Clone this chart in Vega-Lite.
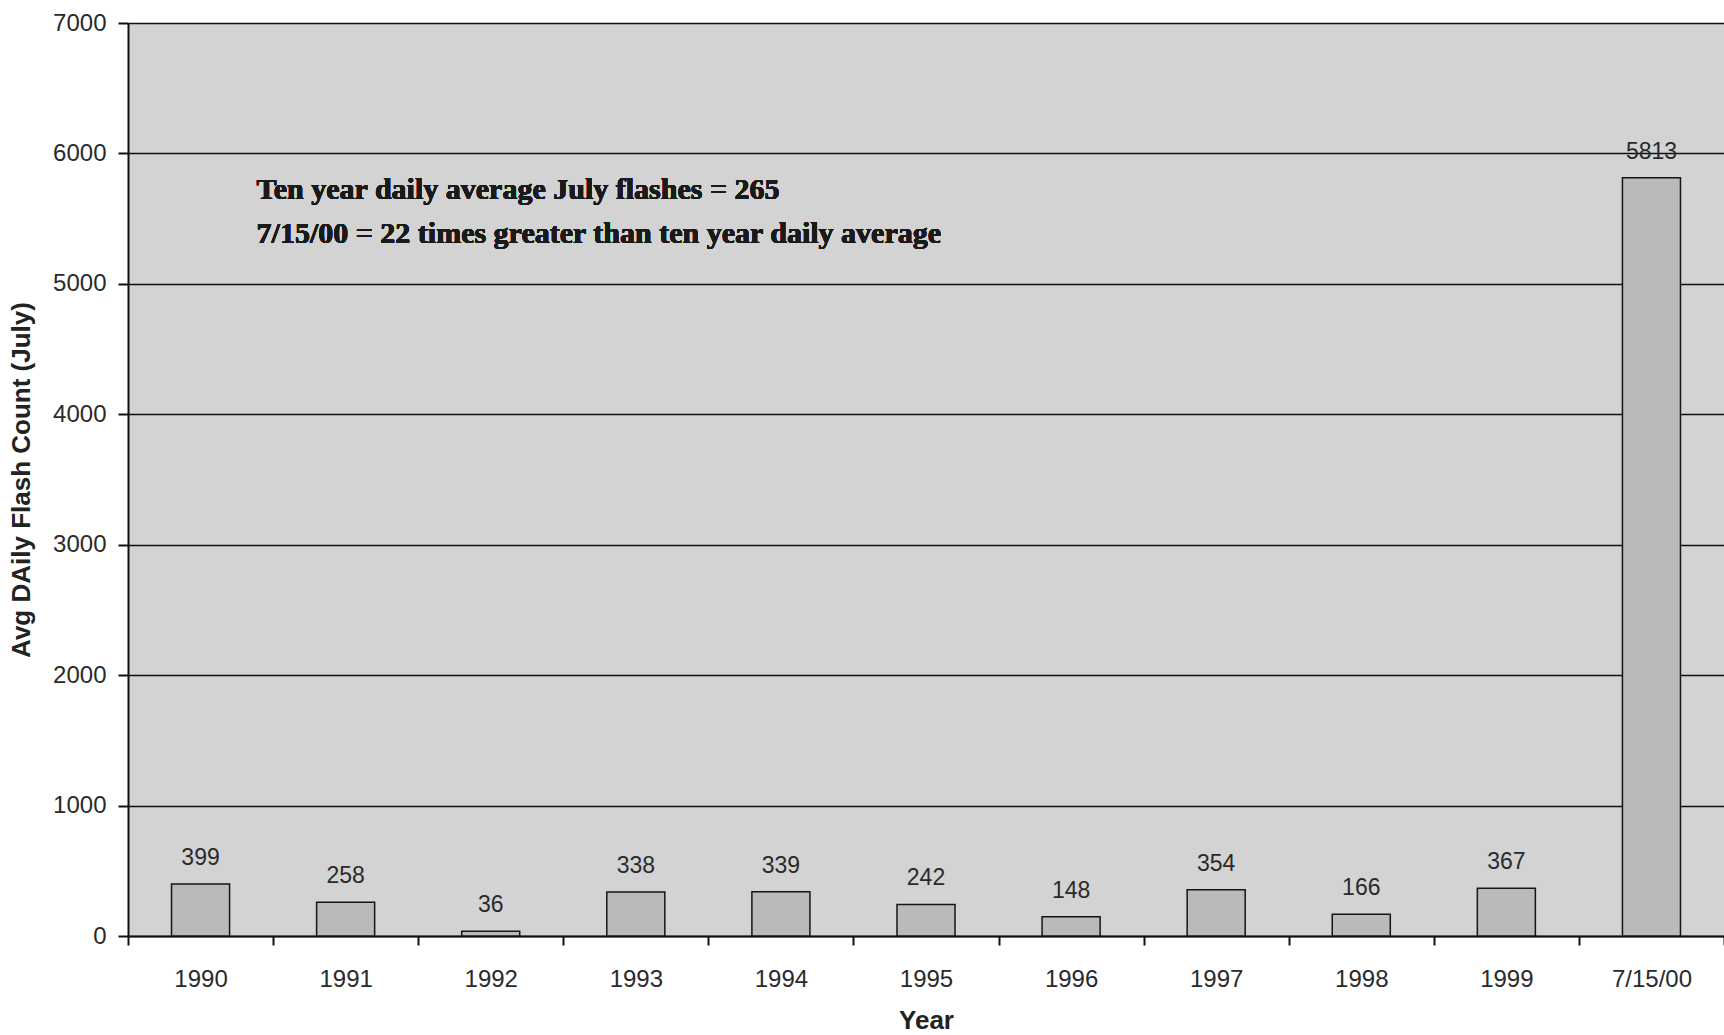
{
  "$schema": "https://vega.github.io/schema/vega-lite/v6.json",
  "autosize": {"type": "none"},
  "width": 1596,
  "height": 913,
  "padding": {"left": 128, "top": 23, "right": 0, "bottom": 99},
  "background": "#ffffff",
  "config": {
    "view": {"fill": "#d3d3d3", "stroke": null},
    "axis": {
      "labelFont": "Liberation Sans",
      "labelFontSize": 24,
      "labelColor": "#2a2a2a",
      "titleFont": "Liberation Sans",
      "titleFontSize": 26,
      "titleFontWeight": "bold",
      "titleColor": "#222222",
      "domainColor": "#111111",
      "domainWidth": 2,
      "tickColor": "#111111",
      "tickWidth": 2
    }
  },
  "data": {
    "values": [
      {"period": "1990", "count": 399},
      {"period": "1991", "count": 258},
      {"period": "1992", "count": 36},
      {"period": "1993", "count": 338},
      {"period": "1994", "count": 339},
      {"period": "1995", "count": 242},
      {"period": "1996", "count": 148},
      {"period": "1997", "count": 354},
      {"period": "1998", "count": 166},
      {"period": "1999", "count": 367},
      {"period": "7/15/00", "count": 5813}
    ]
  },
  "encoding": {
    "x": {
      "field": "period",
      "type": "nominal",
      "sort": null,
      "scale": {"paddingInner": 0, "paddingOuter": 0},
      "axis": {
        "title": "Year",
        "labelAngle": 0,
        "tickBand": "extent",
        "tickSize": 9,
        "labelPadding": 22,
        "titlePadding": 16,
        "grid": false
      }
    },
    "y": {
      "field": "count",
      "type": "quantitative",
      "scale": {"domain": [0, 7000], "nice": false},
      "axis": {
        "title": "Avg DAily Flash Count  (July)",
        "format": "d",
        "values": [0, 1000, 2000, 3000, 4000, 5000, 6000, 7000],
        "grid": true,
        "gridColor": "#111111",
        "gridWidth": 1.5,
        "gridOpacity": 1,
        "tickSize": 10,
        "labelPadding": 12,
        "titlePadding": 18
      }
    }
  },
  "layer": [
    {
      "mark": {"type": "bar", "width": {"band": 0.4}, "fill": "#bababa", "stroke": "#151515", "strokeWidth": 1.5}
    },
    {
      "mark": {
        "type": "text",
        "baseline": "alphabetic",
        "dy": -19,
        "font": "Liberation Sans",
        "fontSize": 23,
        "fill": "#2a2a2a"
      },
      "encoding": {"text": {"field": "count", "type": "quantitative"}}
    },
    {
      "mark": {
        "type": "text",
        "align": "left",
        "baseline": "alphabetic",
        "dx": 56,
        "font": "Liberation Serif",
        "fontWeight": "bold",
        "fontSize": 30,
        "fill": "#1a1a1a"
      },
      "encoding": {
        "x": {"datum": "1990"},
        "y": {"datum": 5652},
        "text": {"value": "Ten year daily average July flashes = 265"}
      }
    },
    {
      "mark": {
        "type": "text",
        "align": "left",
        "baseline": "alphabetic",
        "dx": 56,
        "font": "Liberation Serif",
        "fontWeight": "bold",
        "fontSize": 30,
        "fill": "#1a1a1a"
      },
      "encoding": {
        "x": {"datum": "1990"},
        "y": {"datum": 5314},
        "text": {"value": "7/15/00 = 22 times greater than ten year daily average"}
      }
    }
  ]
}
